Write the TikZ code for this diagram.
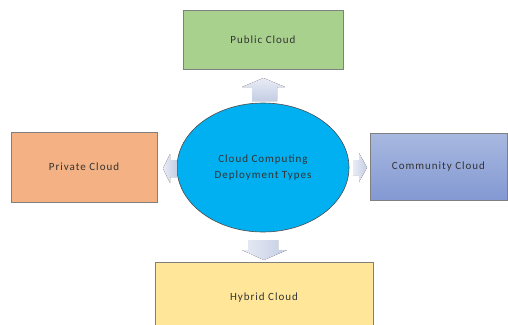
\documentclass[tikz,border=0pt]{standalone}
\usepackage{fontspec}
\setmainfont{Carlito}[LetterSpace=9]
\usetikzlibrary{shapes.geometric}
\definecolor{pubfill}{HTML}{A9D18E}
\definecolor{privfill}{HTML}{F4B183}
\definecolor{commtop}{HTML}{A8B8E0}
\definecolor{commbot}{HTML}{8399D2}
\definecolor{hybfill}{HTML}{FFE699}
\definecolor{corefill}{HTML}{00B0F0}
\definecolor{boxline}{HTML}{7F7F7F}
\definecolor{arrowlight}{HTML}{E8ECF5}
\definecolor{arrowdark}{HTML}{C4CDE4}
\definecolor{txt}{HTML}{333333}
\tikzset{
  cloudbox/.style={draw=boxline, line width=0.6pt, text=txt, font=\fontsize{11}{12}\selectfont},
  blockarrow/.style={draw=none, shade, shading angle=0, top color=arrowlight, bottom color=arrowdark}
}
\begin{document}
\begin{tikzpicture}[x=1pt,y=-1pt]
\useasboundingbox (0,0) rectangle (508,324);
% central ellipse
\node[ellipse, draw=black!70, line width=0.6pt, fill=corefill, minimum width=172pt, minimum height=129pt,
      text=txt, font=\fontsize{11}{16}\selectfont, align=center] (core) at (263,167.5)
      {Cloud Computing\\Deployment Types};
% the four deployment models
\node[cloudbox, fill=pubfill, minimum width=160pt, minimum height=59pt] (public) at (263,39.5) {Public Cloud};
\node[cloudbox, fill=privfill, minimum width=146pt, minimum height=70pt] (private) at (84,167) {Private Cloud};
\node[cloudbox, top color=commtop, bottom color=commbot, minimum width=137pt, minimum height=67pt] (community) at (438.5,166.5) {Community Cloud};
\node[cloudbox, fill=hybfill, minimum width=218pt, minimum height=72pt] (hybrid) at (264,298) {Hybrid Cloud};
% block arrows pointing outwards
\fill[blockarrow] (252,101) -- (252,87) -- (242,87) -- (263.5,78) -- (285,87) -- (277,87) -- (277,101) -- cycle;
\fill[blockarrow, shading angle=90] (248,240) -- (278,240) -- (278,250) -- (287,250) -- (264,260) -- (242,250) -- (248,250) -- cycle;
\fill[blockarrow, shading angle=90] (177,160) -- (170,160) -- (170,154) -- (163,168.5) -- (170,183) -- (170,177) -- (177,177) -- cycle;
\fill[blockarrow, shading angle=90] (353,160) -- (359,160) -- (359,153) -- (367,167.5) -- (359,182) -- (359,175) -- (353,175) -- cycle;
\end{tikzpicture}
\end{document}
